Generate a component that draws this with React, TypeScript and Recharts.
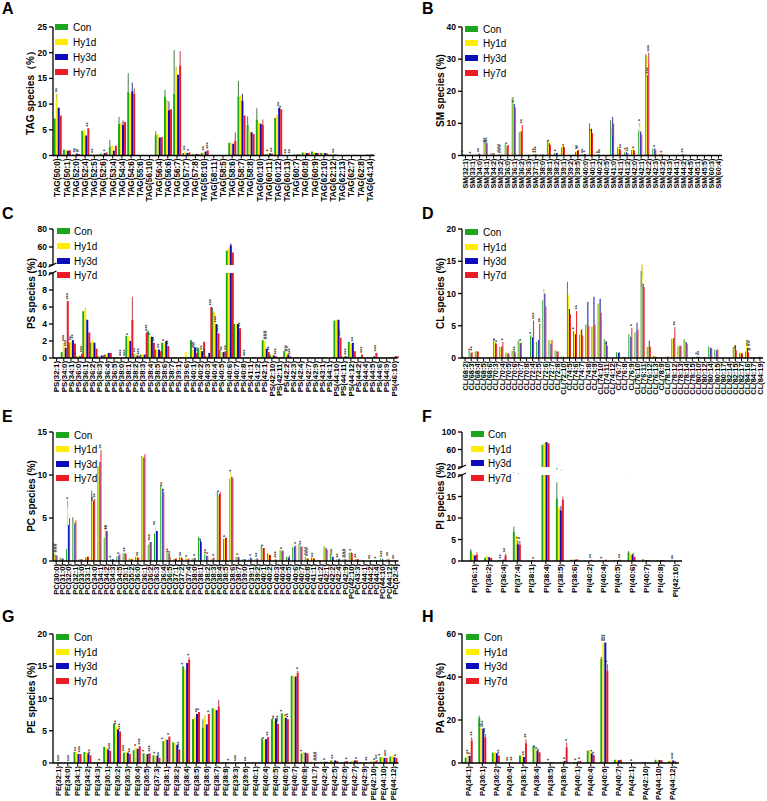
import React from "react";
import { BarChart, Bar, XAxis, YAxis, ErrorBar, LabelList } from "recharts";

const FONT = "'Liberation Sans', Arial, Helvetica, sans-serif";
const KEYS = ["con", "h1", "h3", "h7"];
const GROUPS = ["Con", "Hy1d", "Hy3d", "Hy7d"];
const COLORS: Record<string, string> = { con: "#1ea51e", h1: "#ffec00", h3: "#0d0dbd", h7: "#ec1c24" };
const ERR_COLORS: Record<string, string> = { con: "#4d7a4d", h1: "#c8b400", h3: "#3a3a9a", h7: "#c04040" };

type Err = [string, string, number];
type Sig = [string, string, string];

// A: TAG
const tagCats = ["TAG(50:0)", "TAG(50:1)", "TAG(52:0)", "TAG(52:4)", "TAG(52:5)", "TAG(52:6)", "TAG(53:4)", "TAG(54:4)", "TAG(54:6)", "TAG(55:6)", "TAG(56:10)", "TAG(56:4)", "TAG(56:6)", "TAG(56:7)", "TAG(57:7)", "TAG(57:8)", "TAG(58:10)", "TAG(58:11)", "TAG(58:5)", "TAG(58:6)", "TAG(58:7)", "TAG(58:8)", "TAG(60:10)", "TAG(60:11)", "TAG(60:12)", "TAG(60:13)", "TAG(60:7)", "TAG(60:8)", "TAG(60:9)", "TAG(62:10)", "TAG(62:12)", "TAG(62:13)", "TAG(62:7)", "TAG(62:8)", "TAG(64:14)"];
const tagCon = [7.2, 1.1, 0.2, 4.8, 0.2, 0.4, 1.7, 6.2, 12.3, 0.1, 0.1, 4.0, 11.5, 12.0, 0.5, 0.3, 0.5, 0.1, 0.1, 2.5, 11.5, 6.0, 7.0, 0.3, 7.3, 0.1, 0.2, 0.6, 0.8, 0.5, 0.2, 0.05, 0.05, 0.05, 0.2];
const tagH1 = [11.0, 1.0, 0.3, 4.9, 0.2, 0.3, 1.9, 6.3, 12.0, 0.1, 0.1, 4.2, 9.5, 16.5, 0.8, 0.3, 0.7, 0.1, 0.1, 2.5, 11.7, 4.8, 6.5, 0.5, 8.0, 0.1, 0.2, 0.6, 0.7, 0.5, 0.2, 0.05, 0.05, 0.05, 0.2];
const tagH3 = [9.3, 0.9, 0.4, 3.9, 0.1, 0.5, 0.9, 6.0, 12.5, 0.1, 0.1, 3.5, 8.8, 15.7, 0.5, 0.3, 0.8, 0.1, 0.1, 2.3, 10.7, 4.5, 6.2, 0.4, 9.3, 0.1, 0.2, 0.5, 0.5, 0.5, 0.2, 0.05, 0.05, 0.05, 0.2];
const tagH7 = [7.8, 1.0, 0.3, 5.3, 0.2, 0.6, 1.9, 6.5, 12.0, 0.1, 0.1, 3.6, 9.0, 17.5, 0.6, 0.3, 1.0, 0.1, 0.1, 2.8, 7.8, 4.2, 6.0, 0.4, 9.0, 0.1, 0.2, 0.5, 0.5, 0.4, 0.2, 0.05, 0.05, 0.05, 0.2];
const tagErr: Err[] = [
  ["TAG(50:0)", "h1", 1.0], ["TAG(53:4)", "con", 1.3], ["TAG(54:4)", "con", 1.3], ["TAG(54:4)", "h3", 0.8],
  ["TAG(54:6)", "con", 3.7], ["TAG(54:6)", "h3", 1.7], ["TAG(54:6)", "h7", 1.0], ["TAG(56:4)", "con", 0.7],
  ["TAG(56:6)", "con", 1.3], ["TAG(56:6)", "h1", 1.3], ["TAG(56:6)", "h3", 1.7], ["TAG(56:7)", "con", 8.5],
  ["TAG(56:7)", "h1", 0.8], ["TAG(56:7)", "h7", 2.8], ["TAG(58:6)", "h7", 1.7], ["TAG(58:7)", "con", 3.0],
  ["TAG(58:7)", "h3", 1.3], ["TAG(58:8)", "con", 1.6], ["TAG(60:10)", "con", 2.2], ["TAG(60:10)", "h7", 1.0],
];
const tagSig: Sig[] = [
  ["TAG(50:0)", "h1", "**"], ["TAG(52:0)", "h1", "**"], ["TAG(52:0)", "h3", "#"], ["TAG(52:4)", "h7", "**"],
  ["TAG(52:5)", "h1", "**"], ["TAG(52:6)", "h3", "*"], ["TAG(57:7)", "h1", "**"], ["TAG(57:7)", "h7", "*"],
  ["TAG(58:10)", "h1", "**"], ["TAG(58:10)", "h7", "***"], ["TAG(60:11)", "h1", "*"], ["TAG(60:11)", "h7", "**"],
  ["TAG(60:12)", "h3", "**"], ["TAG(60:12)", "h7", "*"], ["TAG(60:13)", "h1", "**"], ["TAG(60:13)", "h7", "**"],
  ["TAG(62:12)", "h3", "**"],
];

// B: SM
const smCats = ["SM(32:1)", "SM(33:1)", "SM(34:0)", "SM(34:1)", "SM(34:2)", "SM(35:2)", "SM(36:0)", "SM(36:1)", "SM(36:2)", "SM(36:3)", "SM(37:1)", "SM(38:0)", "SM(38:1)", "SM(38:2)", "SM(39:1)", "SM(39:2)", "SM(39:5)", "SM(40:0)", "SM(40:1)", "SM(40:2)", "SM(40:5)", "SM(41:0)", "SM(41:1)", "SM(41:2)", "SM(42:0)", "SM(42:1)", "SM(42:2)", "SM(42:3)", "SM(43:2)", "SM(43:3)", "SM(44:1)", "SM(44:2)", "SM(44:5)", "SM(45:1)", "SM(45:5)", "SM(60:3)", "SM(60:4)"];
const smCon = [0.5, 0.2, 0.3, 4.8, 0.7, 0.3, 3.5, 17.0, 7.2, 0.1, 0.4, 0.3, 4.6, 0.8, 2.5, 0.1, 1.2, 0.4, 9.0, 0.2, 0.1, 6.0, 2.5, 1.0, 1.8, 7.8, 24.0, 2.2, 0.5, 0.1, 0.1, 0.2, 0.05, 0.05, 0.05, 0.1, 0.1];
const smH1 = [0.3, 0.1, 0.5, 3.5, 0.7, 0.3, 3.0, 17.5, 7.8, 0.1, 0.4, 0.3, 4.7, 0.8, 2.8, 0.1, 1.3, 0.3, 8.5, 0.2, 0.1, 8.5, 2.7, 1.3, 2.2, 9.0, 28.0, 2.5, 0.5, 0.1, 0.1, 0.3, 0.05, 0.05, 0.05, 0.1, 0.1];
const smH3 = [0.2, 0.1, 0.6, 4.0, 0.7, 0.2, 3.0, 16.0, 7.5, 0.1, 0.4, 0.3, 3.8, 0.8, 2.8, 0.1, 1.5, 0.4, 8.3, 0.3, 0.1, 6.5, 2.0, 1.0, 1.7, 7.5, 25.0, 2.2, 0.4, 0.1, 0.1, 0.4, 0.05, 0.05, 0.05, 0.1, 0.1];
const smH7 = [0.1, 0.1, 0.4, 3.8, 0.6, 0.3, 3.3, 15.0, 9.5, 0.1, 0.4, 0.3, 3.3, 0.8, 2.5, 0.1, 1.8, 0.5, 7.0, 0.2, 0.1, 10.0, 1.8, 0.8, 1.5, 6.5, 29.5, 1.8, 0.3, 0.1, 0.1, 0.3, 0.05, 0.05, 0.05, 0.1, 0.1];
const smErr: Err[] = [
  ["SM(36:1)", "con", 1.0], ["SM(36:1)", "h1", 0.8], ["SM(40:1)", "con", 1.0], ["SM(41:0)", "con", 5.0],
  ["SM(41:0)", "h3", 5.5], ["SM(42:1)", "h1", 1.2], ["SM(42:2)", "con", 7.5], ["SM(42:2)", "h1", 3.0],
  ["SM(42:2)", "h7", 2.5],
];
const smSig: Sig[] = [
  ["SM(32:1)", "con", "*"], ["SM(33:1)", "h1", "*"], ["SM(34:0)", "h3", "**"], ["SM(34:1)", "h1", "#*"],
  ["SM(34:1)", "h7", "**"], ["SM(35:2)", "h1", "###"], ["SM(36:0)", "h3", "*"], ["SM(36:1)", "h3", "*"],
  ["SM(36:2)", "h7", "**"], ["SM(37:1)", "h1", "**"], ["SM(37:1)", "h7", "***"], ["SM(38:1)", "h3", "*"],
  ["SM(38:2)", "h3", "*"], ["SM(39:1)", "h7", "*"], ["SM(39:5)", "h3", "**"], ["SM(39:5)", "h7", "*"],
  ["SM(40:0)", "h1", "**"], ["SM(40:0)", "h7", "*"], ["SM(40:1)", "h7", "*"], ["SM(40:2)", "h1", "*"],
  ["SM(40:2)", "h7", "**"], ["SM(41:1)", "h7", "**"], ["SM(41:2)", "h1", "*"], ["SM(41:2)", "h7", "**"],
  ["SM(42:0)", "h3", "*"], ["SM(42:1)", "h1", "*"], ["SM(42:2)", "h3", "***"], ["SM(42:2)", "h7", "***"],
  ["SM(42:3)", "h3", "*"], ["SM(43:2)", "h3", "*"], ["SM(44:2)", "h3", "**"],
];

// C: PS
const psCats = ["PS(32:1)", "PS(34:0)", "PS(34:1)", "PS(36:0)", "PS(36:1)", "PS(36:2)", "PS(36:3)", "PS(36:4)", "PS(36:5)", "PS(38:0)", "PS(38:1)", "PS(38:2)", "PS(38:3)", "PS(38:4)", "PS(38:5)", "PS(38:6)", "PS(38:7)", "PS(39:1)", "PS(39:6)", "PS(40:1)", "PS(40:2)", "PS(40:3)", "PS(40:4)", "PS(40:5)", "PS(40:6)", "PS(40:7)", "PS(40:8)", "PS(41:1)", "PS(41:2)", "PS(42:1)", "PS(42:10)", "PS(42:11)", "PS(42:2)", "PS(42:3)", "PS(42:4)", "PS(42:7)", "PS(42:9)", "PS(43:1)", "PS(44:1)", "PS(44:10)", "PS(44:11)", "PS(44:12)", "PS(44:2)", "PS(44:4)", "PS(44:5)", "PS(44:6)", "PS(44:9)", "PS(46:10)"];
const psCon = [0.05, 0.7, 1.8, 0.2, 5.5, 1.8, 0.2, 0.4, 0.05, 0.05, 2.6, 0.5, 0.4, 3.2, 1.0, 1.8, 0.05, 0.05, 0.1, 2.1, 1.2, 0.2, 5.5, 0.9, 56, 4.0, 0.05, 0.05, 0.05, 2.1, 0.4, 0.1, 0.8, 0.05, 0.05, 0.05, 0.05, 0.05, 0.05, 4.4, 0.2, 1.9, 0.1, 0.05, 0.1, 0.05, 0.05, 0.1];
const psH1 = [0.05, 1.8, 1.9, 0.3, 5.6, 2.0, 0.2, 0.5, 0.05, 0.05, 2.5, 0.5, 0.4, 2.5, 1.0, 1.8, 0.05, 0.05, 0.7, 1.0, 1.0, 0.3, 5.3, 0.7, 58, 4.0, 0.05, 0.05, 0.05, 2.0, 0.3, 0.1, 0.6, 0.05, 0.05, 0.05, 0.05, 0.05, 0.05, 4.5, 0.2, 1.7, 0.1, 0.05, 0.1, 0.05, 0.05, 0.2];
const psH3 = [0.05, 1.2, 2.1, 0.2, 4.5, 1.8, 0.3, 0.6, 0.05, 0.05, 2.0, 0.3, 0.4, 2.5, 1.0, 2.0, 0.05, 0.05, 0.1, 1.2, 0.8, 0.6, 4.0, 0.7, 62, 4.0, 0.05, 0.05, 0.05, 1.1, 0.3, 0.1, 0.4, 0.05, 0.05, 0.05, 0.05, 0.05, 0.05, 4.5, 0.2, 1.8, 0.1, 0.05, 0.2, 0.05, 0.05, 0.2];
const psH7 = [0.05, 6.7, 1.7, 0.5, 3.0, 1.1, 0.3, 0.6, 0.05, 0.05, 4.5, 0.2, 3.0, 1.8, 0.8, 1.4, 0.05, 0.05, 0.1, 0.6, 1.9, 6.0, 2.9, 0.8, 54, 3.5, 0.05, 0.05, 0.05, 0.7, 0.2, 0.1, 0.2, 0.05, 0.05, 0.05, 0.05, 0.05, 0.05, 2.4, 0.1, 0.8, 0.4, 0.05, 0.6, 0.05, 0.05, 0.2];
const psErr: Err[] = [
  ["PS(38:1)", "h7", 2.7], ["PS(36:1)", "h1", 0.3], ["PS(40:4)", "con", 0.4], ["PS(40:6)", "h3", 2.0],
];
const psSig: Sig[] = [
  ["PS(34:0)", "h1", "***"], ["PS(34:0)", "h3", "***"], ["PS(34:0)", "h7", "***"], ["PS(34:1)", "h1", "**"],
  ["PS(34:1)", "h3", "**"], ["PS(36:0)", "con", "*"], ["PS(36:0)", "h7", "***"], ["PS(38:0)", "h1", "***"],
  ["PS(38:0)", "h7", "***"], ["PS(38:1)", "h1", "*"], ["PS(38:2)", "h1", "**"], ["PS(38:2)", "h7", "***"],
  ["PS(38:3)", "h7", "***"], ["PS(38:4)", "h1", "*"], ["PS(38:4)", "h7", "**"], ["PS(38:5)", "h3", "**"],
  ["PS(38:6)", "h1", "*"], ["PS(38:6)", "h7", "**"], ["PS(40:1)", "h1", "##"], ["PS(40:1)", "h7", "**"],
  ["PS(40:2)", "h3", "**"], ["PS(40:3)", "con", "***"], ["PS(40:3)", "h7", "***"], ["PS(40:4)", "h3", "***"],
  ["PS(40:4)", "h7", "***"], ["PS(40:5)", "h1", "**"], ["PS(40:5)", "h7", "**"], ["PS(40:7)", "h7", "**"],
  ["PS(40:8)", "h3", "***"], ["PS(42:1)", "h1", "###"], ["PS(42:1)", "h7", "**"], ["PS(42:10)", "h7", "***"],
  ["PS(42:2)", "h1", "##"], ["PS(42:2)", "h7", "***"], ["PS(44:10)", "h7", "***"], ["PS(44:11)", "h3", "***"],
  ["PS(44:12)", "h3", "**"], ["PS(44:2)", "h7", "***"], ["PS(44:5)", "h7", "***"],
];

// D: CL
const clCats = ["CL(68:2)", "CL(68:3)", "CL(68:4)", "CL(68:5)", "CL(68:6)", "CL(70:3)", "CL(70:4)", "CL(70:5)", "CL(70:6)", "CL(70:7)", "CL(70:8)", "CL(72:4)", "CL(72:5)", "CL(72:6)", "CL(72:7)", "CL(72:8)", "CL(72:10)", "CL(74:5)", "CL(74:6)", "CL(74:7)", "CL(74:8)", "CL(74:9)", "CL(74:10)", "CL(74:11)", "CL(74:12)", "CL(76:7)", "CL(76:8)", "CL(76:9)", "CL(76:10)", "CL(76:11)", "CL(76:12)", "CL(76:13)", "CL(78:9)", "CL(78:10)", "CL(78:12)", "CL(78:13)", "CL(78:14)", "CL(78:15)", "CL(80:10)", "CL(80:12)", "CL(80:14)", "CL(80:15)", "CL(80:17)", "CL(82:14)", "CL(82:15)", "CL(82:17)", "CL(84:16)", "CL(84:17)", "CL(84:19)"];
const clCon = [0.2, 1.1, 1.0, 0.05, 0.05, 3.0, 1.7, 0.8, 1.1, 2.7, 0.05, 3.5, 2.5, 9.0, 2.8, 1.2, 0.2, 10.3, 4.2, 3.6, 5.2, 4.9, 8.4, 2.9, 0.05, 0.9, 0.1, 3.7, 4.0, 11.0, 1.7, 0.3, 0.1, 0.2, 3.0, 1.8, 2.9, 0.1, 0.2, 0.1, 1.8, 1.3, 0.05, 0.05, 1.7, 0.8, 1.0, 0.1, 0.1];
const clH1 = [0.2, 0.9, 1.1, 0.05, 0.05, 2.5, 1.6, 0.8, 1.3, 2.6, 0.05, 3.8, 2.7, 10.3, 2.7, 1.1, 0.2, 9.8, 4.0, 4.3, 4.5, 5.0, 8.6, 2.8, 0.05, 0.9, 0.1, 3.5, 3.8, 12.5, 1.8, 0.3, 0.1, 0.2, 3.0, 1.8, 2.6, 0.1, 0.3, 0.1, 1.7, 1.3, 0.05, 0.05, 2.0, 0.8, 2.0, 0.1, 0.2];
const clH3 = [0.1, 0.8, 1.0, 0.05, 0.05, 2.3, 1.8, 0.7, 1.1, 2.3, 0.05, 3.2, 2.8, 10.0, 2.2, 1.0, 0.2, 7.6, 3.7, 4.4, 8.7, 9.5, 9.2, 2.6, 0.05, 0.8, 0.1, 3.3, 4.2, 11.5, 1.8, 0.2, 0.1, 0.2, 3.1, 1.9, 2.5, 0.1, 0.2, 0.1, 1.6, 1.2, 0.05, 0.05, 2.0, 0.7, 1.6, 0.1, 0.2];
const clH7 = [0.1, 0.9, 1.0, 0.05, 0.05, 2.2, 2.5, 0.7, 0.9, 2.4, 0.05, 5.8, 5.3, 8.0, 2.8, 1.0, 0.1, 6.8, 7.3, 3.5, 5.0, 5.2, 7.0, 1.9, 0.05, 0.9, 0.1, 4.7, 4.4, 11.0, 1.8, 0.2, 0.1, 0.2, 4.2, 1.9, 2.2, 0.1, 0.2, 0.1, 1.5, 1.3, 0.05, 0.05, 1.2, 0.7, 0.9, 0.1, 0.1];
const clErr: Err[] = [
  ["CL(74:5)", "con", 1.5], ["CL(76:11)", "con", 2.5], ["CL(76:11)", "h1", 2.0], ["CL(76:10)", "h3", 1.3],
  ["CL(72:6)", "h1", 0.4], ["CL(76:12)", "h3", 0.9], ["CL(78:12)", "h7", 0.6], ["CL(84:16)", "h1", 0.5],
];
const clSig: Sig[] = [
  ["CL(68:3)", "h1", "*"], ["CL(68:3)", "h7", "**"], ["CL(70:3)", "h1", "*"], ["CL(70:3)", "h7", "*"],
  ["CL(70:4)", "h7", "*"], ["CL(70:6)", "h7", "**"], ["CL(70:7)", "h7", "*"], ["CL(72:4)", "con", "*"],
  ["CL(72:4)", "h7", "***"], ["CL(72:5)", "h7", "**"], ["CL(74:6)", "con", "*"], ["CL(74:6)", "h7", "**"],
  ["CL(74:11)", "h7", "*"], ["CL(76:9)", "h7", "*"], ["CL(78:12)", "h7", "**"], ["CL(80:10)", "h1", "*"],
  ["CL(80:10)", "h7", "**"], ["CL(82:15)", "h7", "*"], ["CL(84:16)", "h3", "##"], ["CL(84:16)", "h7", "#"],
];

// E: PC
const pcCats = ["PC(30:0)", "PC(31:0)", "PC(32:0)", "PC(32:1)", "PC(33:0)", "PC(33:1)", "PC(34:0)", "PC(34:1)", "PC(34:2)", "PC(34:3)", "PC(34:5)", "PC(35:1)", "PC(35:2)", "PC(36:0)", "PC(36:1)", "PC(36:2)", "PC(36:3)", "PC(36:4)", "PC(36:5)", "PC(37:1)", "PC(37:2)", "PC(37:4)", "PC(38:0)", "PC(38:1)", "PC(38:2)", "PC(38:3)", "PC(38:4)", "PC(38:5)", "PC(38:6)", "PC(38:7)", "PC(39:0)", "PC(39:1)", "PC(39:2)", "PC(40:1)", "PC(40:2)", "PC(40:3)", "PC(40:4)", "PC(40:5)", "PC(40:6)", "PC(40:7)", "PC(40:8)", "PC(41:1)", "PC(41:2)", "PC(42:1)", "PC(42:2)", "PC(42:4)", "PC(42:9)", "PC(42:10)", "PC(43:3)", "PC(44:1)", "PC(44:2)", "PC(44:4)", "PC(44:10)", "PC(44:12)", "PC(52:4)"];
const pcCon = [0.9, 0.4, 1.4, 4.4, 0.2, 0.4, 7.8, 11.0, 2.7, 0.2, 0.5, 0.9, 0.3, 0.5, 12.2, 1.9, 3.2, 8.8, 1.0, 0.2, 0.5, 0.3, 0.3, 2.8, 0.8, 0.2, 8.0, 2.6, 9.6, 0.5, 0.2, 0.2, 0.2, 1.8, 0.9, 0.1, 1.3, 0.5, 1.6, 1.9, 0.5, 0.4, 0.1, 1.7, 0.7, 0.2, 0.2, 1.0, 0.2, 0.05, 0.05, 0.1, 0.3, 0.2, 0.05];
const pcH1 = [0.8, 0.3, 6.2, 4.6, 0.2, 0.4, 6.8, 11.0, 3.8, 0.2, 0.6, 1.0, 0.3, 0.5, 12.2, 2.0, 4.0, 8.5, 0.8, 0.2, 0.4, 0.3, 0.3, 2.7, 0.7, 0.3, 7.5, 2.6, 10.2, 0.5, 0.2, 0.3, 0.2, 1.5, 0.8, 0.2, 1.2, 0.5, 1.7, 1.8, 0.4, 0.4, 0.1, 1.6, 0.6, 0.2, 0.2, 1.0, 0.2, 0.05, 0.05, 0.1, 0.3, 0.4, 0.05];
const pcH3 = [0.7, 0.3, 4.2, 4.4, 0.2, 0.5, 7.0, 11.5, 3.5, 0.2, 0.6, 0.9, 0.2, 0.4, 12.0, 2.2, 3.5, 8.3, 0.7, 0.3, 0.4, 0.2, 0.3, 2.4, 0.6, 0.3, 7.8, 2.7, 9.8, 0.5, 0.2, 0.4, 0.3, 1.5, 0.7, 0.2, 1.2, 0.4, 1.7, 1.7, 0.3, 0.3, 0.1, 1.5, 0.5, 0.2, 0.2, 1.0, 0.2, 0.05, 0.05, 0.1, 0.2, 0.2, 0.05];
const pcH7 = [0.6, 0.3, 5.0, 4.7, 0.2, 0.5, 7.2, 12.5, 3.5, 0.2, 0.8, 0.8, 0.2, 0.4, 12.4, 2.2, 3.5, 8.0, 0.5, 0.3, 0.3, 0.3, 0.4, 2.2, 0.6, 0.4, 8.0, 2.7, 9.6, 0.4, 0.2, 0.3, 0.2, 1.5, 0.7, 0.1, 1.2, 0.6, 1.8, 1.7, 0.3, 0.3, 0.1, 1.3, 0.5, 0.3, 0.2, 0.9, 0.2, 0.05, 0.05, 0.1, 0.1, 0.1, 0.05];
const pcErr: Err[] = [
  ["PC(32:0)", "h1", 0.8], ["PC(32:1)", "con", 0.7], ["PC(34:0)", "con", 0.4], ["PC(34:1)", "h7", 0.4],
];
const pcSig: Sig[] = [
  ["PC(30:0)", "h1", "###"], ["PC(32:0)", "h1", "*"], ["PC(34:0)", "h1", "**"], ["PC(34:0)", "h7", "**"],
  ["PC(34:1)", "h7", "**"], ["PC(34:2)", "h3", "**"], ["PC(34:2)", "h7", "**"], ["PC(34:3)", "h1", "*"],
  ["PC(34:5)", "h3", "*"], ["PC(35:1)", "h3", "**"], ["PC(36:0)", "h3", "**"], ["PC(36:2)", "h3", "***"],
  ["PC(36:3)", "h1", "**"], ["PC(36:4)", "h1", "**"], ["PC(36:4)", "h7", "*"], ["PC(36:5)", "h1", "**"],
  ["PC(36:5)", "h7", "**"], ["PC(37:2)", "h1", "**"], ["PC(37:4)", "h1", "*"], ["PC(38:0)", "h7", "*"],
  ["PC(38:1)", "h7", "*"], ["PC(38:2)", "h1", "**"], ["PC(38:2)", "h7", "*"], ["PC(38:3)", "h7", "*"],
  ["PC(38:4)", "h3", "*"], ["PC(38:5)", "h1", "*"], ["PC(38:6)", "h1", "*"], ["PC(38:7)", "h3", "*"],
  ["PC(39:1)", "h3", "*"], ["PC(39:2)", "h3", "**"], ["PC(40:1)", "h3", "*"], ["PC(40:3)", "h3", "***"],
  ["PC(40:4)", "h3", "*"], ["PC(40:6)", "h7", "*"], ["PC(40:7)", "h3", "**"], ["PC(40:8)", "h1", "###"],
  ["PC(41:1)", "h3", "**"], ["PC(42:2)", "h3", "***"], ["PC(42:4)", "h1", "**"], ["PC(42:9)", "h1", "###"],
  ["PC(42:10)", "h3", "*"], ["PC(43:3)", "h1", "**"], ["PC(44:2)", "h3", "**"], ["PC(44:4)", "h3", "*"],
  ["PC(44:10)", "h1", "***"], ["PC(44:12)", "h1", "**"], ["PC(52:4)", "h1", "**"],
];

// F: PI
const piCats = ["PI(36:1)", "PI(36:2)", "PI(36:4)", "PI(37:4)", "PI(38:1)", "PI(38:4)", "PI(38:5)", "PI(38:6)", "PI(40:2)", "PI(40:4)", "PI(40:5)", "PI(40:6)", "PI(40:7)", "PI(40:8)", "PI(42:10)"];
const piCon = [2.3, 0.8, 0.2, 6.8, 0.1, 71, 14.5, 0.3, 0.05, 0.2, 0.2, 2.0, 0.4, 0.2, 0.05];
const piH1 = [1.7, 1.2, 0.2, 5.8, 0.1, 75, 12.5, 0.4, 0.05, 0.2, 0.2, 1.7, 0.3, 0.2, 0.05];
const piH3 = [1.3, 0.9, 0.3, 3.9, 0.1, 77, 11.8, 0.3, 0.05, 0.1, 0.2, 1.4, 0.2, 0.2, 0.05];
const piH7 = [1.5, 0.7, 1.3, 3.8, 0.1, 74, 14.2, 0.4, 0.3, 0.3, 0.3, 1.0, 0.2, 0.2, 0.05];
const piErr: Err[] = [
  ["PI(36:1)", "con", 0.5], ["PI(36:1)", "h7", 0.5], ["PI(37:4)", "con", 1.2], ["PI(37:4)", "h3", 0.9],
  ["PI(37:4)", "h7", 0.9], ["PI(38:5)", "con", 3.8], ["PI(38:5)", "h3", 1.0], ["PI(38:5)", "h7", 0.8],
  ["PI(36:4)", "h7", 0.4], ["PI(40:6)", "con", 0.3],
];
const piSig: Sig[] = [
  ["PI(36:4)", "h1", "**"], ["PI(36:4)", "h7", "**"], ["PI(37:4)", "h3", "*"], ["PI(37:4)", "h7", "*"],
  ["PI(38:1)", "h7", "*"], ["PI(40:2)", "h7", "**"], ["PI(40:4)", "h1", "*"], ["PI(40:5)", "h7", "**"],
  ["PI(40:6)", "h7", "*"], ["PI(42:10)", "h1", "**"],
];

// G: PE
const peCats = ["PE(32:1)", "PE(34:0)", "PE(34:1)", "PE(34:2)", "PE(34:3)", "PE(36:1)", "PE(36:2)", "PE(36:3)", "PE(36:4)", "PE(36:5)", "PE(37:3)", "PE(38:1)", "PE(38:2)", "PE(38:4)", "PE(38:5)", "PE(38:6)", "PE(38:7)", "PE(38:8)", "PE(39:3)", "PE(39:6)", "PE(40:1)", "PE(40:4)", "PE(40:5)", "PE(40:6)", "PE(40:7)", "PE(40:8)", "PE(41:7)", "PE(42:4)", "PE(42:5)", "PE(42:6)", "PE(42:7)", "PE(42:9)", "PE(42:10)", "PE(44:10)", "PE(44:12)"];
const peCon = [0.05, 0.05, 1.7, 1.7, 0.1, 2.5, 6.1, 1.6, 2.0, 1.5, 1.2, 3.4, 3.2, 15.0, 6.8, 5.5, 8.5, 0.1, 0.05, 0.05, 0.05, 3.8, 6.8, 7.7, 13.5, 1.5, 0.2, 0.2, 0.4, 0.1, 0.2, 0.1, 0.2, 0.9, 1.0];
const peH1 = [0.05, 0.05, 1.6, 1.6, 0.1, 2.4, 5.7, 1.8, 2.4, 1.3, 1.2, 3.7, 3.1, 14.5, 7.2, 6.8, 8.3, 0.1, 0.05, 0.05, 0.05, 3.5, 6.5, 7.2, 13.6, 1.7, 0.2, 0.2, 0.4, 0.2, 0.4, 0.1, 0.3, 0.9, 1.1];
const peH3 = [0.05, 0.05, 1.4, 1.5, 0.1, 2.1, 5.2, 1.6, 2.2, 1.4, 1.1, 3.6, 2.8, 15.5, 7.6, 6.0, 8.2, 0.1, 0.05, 0.05, 0.05, 3.7, 6.9, 7.0, 13.4, 1.6, 0.1, 0.2, 0.4, 0.2, 0.4, 0.1, 0.2, 0.8, 0.9];
const peH7 = [0.05, 0.05, 1.4, 1.2, 0.1, 1.9, 4.9, 1.4, 2.6, 1.5, 0.8, 4.1, 2.1, 16.0, 7.9, 7.6, 8.8, 0.1, 0.05, 0.05, 0.05, 4.0, 6.1, 6.8, 14.0, 1.5, 0.1, 0.2, 0.3, 0.3, 0.4, 0.1, 0.4, 0.8, 0.8];
const peErr: Err[] = [
  ["PE(38:6)", "con", 1.3], ["PE(38:6)", "h1", 0.6], ["PE(38:7)", "h7", 1.0], ["PE(38:4)", "h7", 0.4],
  ["PE(40:7)", "h7", 0.3],
];
const peSig: Sig[] = [
  ["PE(32:1)", "h3", "***"], ["PE(34:0)", "h3", "***"], ["PE(34:1)", "h1", "**"], ["PE(34:1)", "h7", "***"],
  ["PE(34:2)", "h7", "**"], ["PE(34:3)", "h7", "*"], ["PE(36:1)", "h7", "***"], ["PE(36:2)", "h1", "**"],
  ["PE(36:2)", "h7", "***"], ["PE(36:3)", "con", "***"], ["PE(36:3)", "h7", "**"], ["PE(36:4)", "h1", "*"],
  ["PE(36:4)", "h7", "***"], ["PE(36:5)", "con", "*"], ["PE(36:5)", "h7", "***"], ["PE(37:3)", "h1", "*"],
  ["PE(37:3)", "h7", "**"], ["PE(38:1)", "con", "*"], ["PE(38:1)", "h7", "*"], ["PE(38:2)", "h7", "***"],
  ["PE(38:4)", "con", "*"], ["PE(38:4)", "h7", "*"], ["PE(38:5)", "h3", "**"], ["PE(38:5)", "h7", "*"],
  ["PE(38:6)", "h7", "*"], ["PE(38:8)", "h7", "*"], ["PE(39:3)", "h3", "***"], ["PE(39:6)", "h3", "**"],
  ["PE(40:4)", "h1", "*"], ["PE(40:4)", "h7", "**"], ["PE(40:5)", "h1", "**"], ["PE(40:5)", "h7", "***"],
  ["PE(40:6)", "con", "*"], ["PE(40:6)", "h3", "*"], ["PE(40:6)", "h7", "**"], ["PE(40:7)", "h7", "*"],
  ["PE(40:8)", "con", "*"], ["PE(41:7)", "h3", "###"], ["PE(42:4)", "h3", "*"], ["PE(42:5)", "h1", "**"],
  ["PE(42:6)", "h7", "*"], ["PE(42:7)", "h7", "*"], ["PE(42:9)", "h7", "**"], ["PE(42:10)", "h3", "*"],
  ["PE(42:10)", "h7", "**"], ["PE(44:10)", "con", "*"], ["PE(44:10)", "h7", "***"], ["PE(44:12)", "h7", "*"],
];

// H: PA
const paCats = ["PA(34:1)", "PA(36:1)", "PA(36:2)", "PA(36:4)", "PA(38:1)", "PA(38:4)", "PA(38:5)", "PA(38:6)", "PA(40:1)", "PA(40:4)", "PA(40:6)", "PA(40:7)", "PA(42:1)", "PA(42:10)", "PA(44:10)", "PA(44:12)"];
const paCon = [2.5, 21, 4.8, 0.2, 3.5, 8.0, 0.3, 0.5, 0.5, 5.8, 48.5, 1.5, 0.1, 0.2, 1.5, 0.8];
const paH1 = [3.5, 16.5, 5.0, 0.2, 3.2, 6.5, 0.3, 0.7, 0.5, 5.5, 56, 1.5, 0.1, 0.2, 1.5, 1.2];
const paH3 = [3.3, 16, 4.5, 0.3, 2.8, 5.8, 0.3, 1.0, 0.7, 4.5, 56, 1.3, 0.1, 0.2, 1.4, 1.2];
const paH7 = [10.5, 12, 3.5, 0.3, 9.2, 5.0, 0.3, 7.3, 1.0, 3.6, 43, 1.5, 0.1, 0.2, 1.3, 0.8];
const paErr: Err[] = [
  ["PA(34:1)", "h7", 1.5], ["PA(36:1)", "con", 1.0], ["PA(36:1)", "h7", 1.5], ["PA(38:1)", "h7", 1.8],
  ["PA(38:6)", "h7", 2.2], ["PA(40:6)", "h7", 3.0], ["PA(40:6)", "con", 0.8],
];
const paSig: Sig[] = [
  ["PA(34:1)", "h1", "**"], ["PA(34:1)", "h3", "*"], ["PA(34:1)", "h7", "**"], ["PA(36:1)", "h1", "*"],
  ["PA(36:1)", "h3", "***"], ["PA(36:1)", "h7", "**"], ["PA(36:2)", "h7", "**"], ["PA(36:4)", "h1", "**"],
  ["PA(36:4)", "h7", "**"], ["PA(38:1)", "h3", "**"], ["PA(38:1)", "h7", "**"], ["PA(38:4)", "h1", "*"],
  ["PA(38:4)", "h3", "*"], ["PA(38:4)", "h7", "*"], ["PA(38:5)", "h1", "*"], ["PA(38:6)", "h3", "*"],
  ["PA(38:6)", "h7", "*"], ["PA(40:1)", "h1", "*"], ["PA(40:1)", "h7", "*"], ["PA(40:4)", "h3", "*"],
  ["PA(40:4)", "h7", "*"], ["PA(40:6)", "h1", "***"], ["PA(40:6)", "h3", "***"], ["PA(40:6)", "h7", "*"],
  ["PA(42:1)", "h3", "*"], ["PA(44:12)", "h3", "***"],
];

function rows(cats: string[], con: number[], h1: number[], h3: number[], h7: number[], errs: Err[], sigs: Sig[]) {
  return cats.map((name, i) => {
    const r: any = { name, con: con[i], h1: h1[i], h3: h3[i], h7: h7[i] };
    KEYS.forEach((k) => {
      const e = errs.find((x) => x[0] === name && x[1] === k);
      r[k + "E"] = [0, e ? e[2] : 0];
      const s = sigs.find((x) => x[0] === name && x[1] === k);
      r[k + "S"] = s ? s[2] : "";
    });
    return r;
  });
}

function XTick(props: any) {
  const { x, y, payload, fs } = props;
  return (
    <g transform={`translate(${x},${y - 2})`}>
      <text transform="rotate(-90)" x={0} y={0} dy="0.35em" textAnchor="end" fontSize={fs} fontWeight="bold" fontFamily={FONT} fill="#000">
        {payload.value}
      </text>
    </g>
  );
}

function SigMark({ x, y, width, height, index, data, k }: any) {
  const row = data[index];
  if (!row) return null;
  const s = row[k + "S"];
  if (!s) return null;
  const v = row[k];
  const e = row[k + "E"][1];
  const ppu = v > 0 ? height / v : 0;
  const top = y - e * ppu - 1.5;
  const cx = x + width / 2;
  return (
    <text transform={`translate(${cx},${top}) rotate(-90)`} x={0} y={0} dy="0.35em" textAnchor="start" fontSize={5.5} fontWeight="bold" fontFamily={FONT} fill="#333">
      {s}
    </text>
  );
}

type BlockProps = {
  data: any[];
  x0: number;
  x1: number;
  yTop: number;
  yBot: number;
  domain: [number, number];
  ticks: number[];
  showX?: boolean;
  fs?: number;
  gap?: string;
  padL?: number;
};

function Block({ data, x0, x1, yTop, yBot, domain, ticks, showX = true, fs = 8, gap = "8%", padL = 0 }: BlockProps) {
  const yw = 34;
  const mt = 6;
  const mr = 6;
  const mb = showX ? 0 : 8;
  const xh = showX ? 64 : 0;
  const left = x0 - yw;
  const top = yTop - mt;
  const width = x1 - left + mr;
  const height = mt + (yBot - yTop) + xh + mb;
  return (
    <div style={{ position: "absolute", left, top }}>
      <BarChart width={width} height={height} data={data} margin={{ top: mt, right: mr, bottom: mb, left: 0 }} barCategoryGap={gap} barGap={0}>
        <XAxis
          dataKey="name"
          type="category"
          interval={0}
          hide={!showX}
          height={xh}
          tickSize={3}
          tickLine={{ stroke: "#000", strokeWidth: 1 }}
          axisLine={{ stroke: "#000", strokeWidth: 1.3 }}
          padding={{ left: padL, right: 0 }}
          tick={(p: any) => <XTick {...p} fs={fs} />}
        />
        <YAxis
          type="number"
          domain={domain}
          ticks={ticks}
          allowDataOverflow
          interval={0}
          width={yw}
          tickSize={4}
          tickLine={{ stroke: "#000", strokeWidth: 1.3 }}
          axisLine={{ stroke: "#000", strokeWidth: 1.3 }}
          tick={{ fontSize: 8.5, fontWeight: "bold", fill: "#000", fontFamily: FONT }}
        />
        {KEYS.map((k) => (
          <Bar key={k} dataKey={k} fill={COLORS[k]} isAnimationActive={false}>
            <ErrorBar dataKey={k + "E"} direction="y" width={0} stroke={ERR_COLORS[k]} strokeWidth={1} isAnimationActive={false} />
            {showX && <LabelList dataKey={k + "S"} content={(p: any) => <SigMark {...p} data={data} k={k} />} />}
          </Bar>
        ))}
      </BarChart>
    </div>
  );
}

function Legend({ sx, tx, ys }: { sx: number; tx: number; ys: number[] }) {
  return (
    <g>
      {GROUPS.map((g, i) => (
        <g key={g}>
          <rect x={sx} y={ys[i] - 3} width={13} height={6} fill={COLORS[KEYS[i]]} />
          <text x={tx} y={ys[i] + 3.6} fontSize={10} fontFamily={FONT} fill="#000">{g}</text>
        </g>
      ))}
    </g>
  );
}

function YLabel({ x, y, text }: { x: number; y: number; text: string }) {
  return (
    <text x={x} y={y} transform={`rotate(-90 ${x} ${y})`} textAnchor="middle" dominantBaseline="central" fontSize={10} fontWeight="bold" fontFamily={FONT} fill="#000">
      {text}
    </text>
  );
}

function Letter({ x, y, t }: { x: number; y: number; t: string }) {
  return <text x={x} y={y} fontSize={16} fontWeight="bold" fontFamily={FONT} fill="#000">{t}</text>;
}

function BreakMark({ x, y1, y2 }: { x: number; y1: number; y2: number }) {
  return (
    <g stroke="#000" strokeWidth={1.2}>
      <line x1={x - 4} y1={y1 + 2} x2={x + 4} y2={y1 - 2} />
      <line x1={x - 4} y1={y2 + 2} x2={x + 4} y2={y2 - 2} />
    </g>
  );
}

export default function App() {
  const tag = rows(tagCats, tagCon, tagH1, tagH3, tagH7, tagErr, tagSig);
  const sm = rows(smCats, smCon, smH1, smH3, smH7, smErr, smSig);
  const ps = rows(psCats, psCon, psH1, psH3, psH7, psErr, psSig);
  const cl = rows(clCats, clCon, clH1, clH3, clH7, clErr, clSig);
  const pc = rows(pcCats, pcCon, pcH1, pcH3, pcH7, pcErr, pcSig);
  const pi = rows(piCats, piCon, piH1, piH3, piH7, piErr, piSig);
  const pe = rows(peCats, peCon, peH1, peH3, peH7, peErr, peSig);
  const pa = rows(paCats, paCon, paH1, paH3, paH7, paErr, paSig);

  return (
    <div style={{ position: "absolute", left: 0, top: 0, width: 767, height: 801, overflow: "hidden", background: "#fff" }}>
      <Block data={tag} x0={52.5} x1={374} yTop={26.5} yBot={155} domain={[0, 25]} ticks={[0, 5, 10, 15, 20, 25]} fs={8.2} />
      <Block data={sm} x0={462} x1={722} yTop={26.5} yBot={155} domain={[0, 40]} ticks={[0, 10, 20, 30, 40]} fs={7.2} />
      <Block data={ps} x0={52.5} x1={397} yTop={229} yBot={265} domain={[40, 80]} ticks={[40, 60, 80]} showX={false} />
      <Block data={ps} x0={52.5} x1={397} yTop={273} yBot={358} domain={[0, 10]} ticks={[0, 2, 4, 6, 8, 10]} fs={7.8} />
      <Block data={cl} x0={462} x1={763} yTop={229} yBot={358} domain={[0, 20]} ticks={[0, 5, 10, 15, 20]} fs={7.4} />
      <Block data={pc} x0={52.5} x1={398} yTop={432} yBot={561} domain={[0, 15]} ticks={[0, 5, 10, 15]} fs={7.6} />
      <Block data={pi} x0={462} x1={682} yTop={432} yBot={467} domain={[20, 100]} ticks={[20, 60, 100]} showX={false} gap="20%" padL={5} />
      <Block data={pi} x0={462} x1={682} yTop={475} yBot={561} domain={[0, 20]} ticks={[0, 5, 10, 15, 20]} fs={8} gap="20%" padL={5} />
      <Block data={pe} x0={52.5} x1={398} yTop={634} yBot={763} domain={[0, 20]} ticks={[0, 5, 10, 15, 20]} fs={7.5} />
      <Block data={pa} x0={462} x1={679} yTop={634} yBot={763} domain={[0, 60]} ticks={[0, 20, 40, 60]} fs={7.5} gap="20%" />

      <svg width={767} height={801} style={{ position: "absolute", left: 0, top: 0, pointerEvents: "none" }}>
        <Letter x={2} y={14} t="A" />
        <Letter x={422} y={14} t="B" />
        <Letter x={2} y={219} t="C" />
        <Letter x={422} y={219} t="D" />
        <Letter x={2} y={422} t="E" />
        <Letter x={422} y={422} t="F" />
        <Letter x={2} y={622} t="G" />
        <Letter x={422} y={622} t="H" />

        <YLabel x={30} y={90.5} text="TAG species（%）" />
        <YLabel x={440} y={90.5} text="SM species (%)" />
        <YLabel x={31} y={293.5} text="PS species (%)" />
        <YLabel x={440} y={293.5} text="CL species (%)" />
        <YLabel x={31} y={496} text="PC species (%)" />
        <YLabel x={440} y={496} text="PI species (%)" />
        <YLabel x={31} y={698} text="PE species (%)" />
        <YLabel x={440} y={698} text="PA species (%)" />

        <Legend sx={55} tx={73} ys={[27, 42, 57, 72]} />
        <Legend sx={465} tx={483} ys={[29, 43, 58, 73]} />
        <Legend sx={57} tx={74} ys={[231, 246, 261, 275]} />
        <Legend sx={465} tx={483} ys={[232, 247, 261, 275]} />
        <Legend sx={56} tx={74} ys={[435, 449, 464, 478]} />
        <Legend sx={471} tx={488} ys={[434, 449, 463, 478]} />
        <Legend sx={56} tx={74} ys={[637, 652, 666, 681]} />
        <Legend sx={466} tx={484} ys={[637, 652, 666, 681]} />

        <BreakMark x={52.5} y1={265} y2={273} />
        <BreakMark x={462} y1={467} y2={475} />
      </svg>
    </div>
  );
}
